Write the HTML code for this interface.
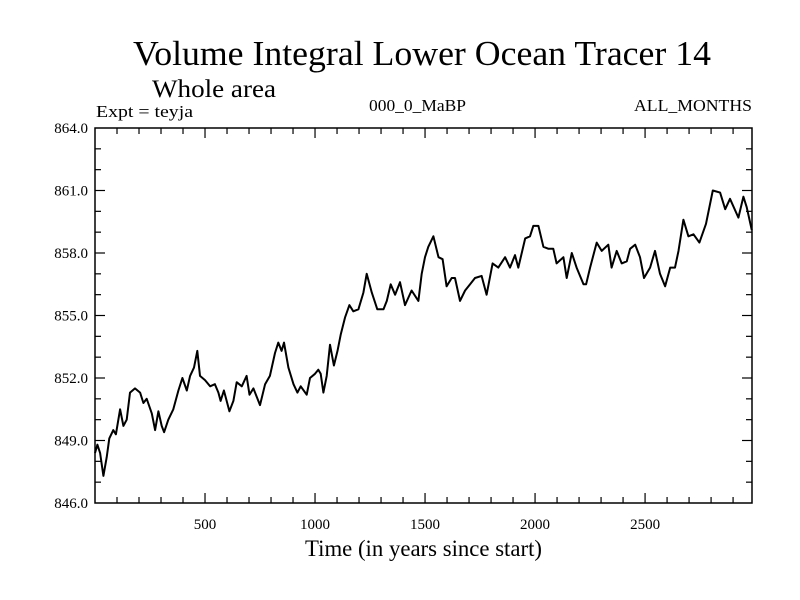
<!DOCTYPE html>
<html><head><meta charset="utf-8"><style>
html,body{margin:0;padding:0;background:#fff;}
svg{display:block;font-family:"Liberation Serif",serif;}
</style></head><body>
<svg id="chart" width="800" height="600" viewBox="0 0 800 600">
<text x="422" y="65" font-size="35" text-anchor="middle" textLength="578" lengthAdjust="spacingAndGlyphs">Volume Integral Lower Ocean Tracer 14</text>
<text x="152" y="97" font-size="25" textLength="124" lengthAdjust="spacingAndGlyphs">Whole area</text>
<text x="96" y="117" font-size="17" textLength="97" lengthAdjust="spacingAndGlyphs">Expt = teyja</text>
<text x="369" y="111" font-size="17" textLength="97" lengthAdjust="spacingAndGlyphs">000_0_MaBP</text>
<text x="634" y="111" font-size="17" textLength="118" lengthAdjust="spacingAndGlyphs">ALL_MONTHS</text>
<text x="305" y="556" font-size="23" textLength="237" lengthAdjust="spacingAndGlyphs">Time (in years since start)</text>
<g id="ticks"></g>
<path id="line" fill="none" stroke="#000" stroke-width="2" stroke-linejoin="round"/>
<rect x="95" y="128" width="657" height="375" fill="none" stroke="#000" stroke-width="1.5"/>
</svg>
<script>
const years = [0,11,23,38,53,65,83,95,114,129,144,159,182,205,220,235,258,273,288,303,314,333,356,379,397,417,432,450,465,477,500,523,545,561,571,586,611,629,644,667,689,702,720,750,773,795,818,833,848,859,879,902,920,935,962,977,1000,1015,1026,1038,1053,1068,1086,1102,1117,1136,1156,1174,1197,1220,1235,1258,1283,1311,1326,1344,1364,1386,1409,1439,1470,1485,1500,1515,1538,1561,1580,1598,1621,1636,1659,1682,1705,1727,1757,1780,1807,1833,1864,1886,1909,1924,1955,1977,1992,2015,2038,2061,2083,2098,2129,2144,2167,2189,2220,2232,2250,2280,2303,2333,2348,2371,2394,2417,2432,2455,2477,2495,2523,2545,2568,2591,2614,2636,2652,2674,2697,2720,2747,2777,2808,2841,2864,2886,2924,2947,2962,2985];
const values = [848.4,848.8,848.4,847.3,848.2,849.1,849.5,849.3,850.5,849.7,850.0,851.3,851.5,851.3,850.8,851.0,850.3,849.5,850.4,849.7,849.4,850.0,850.5,851.4,852.0,851.4,852.1,852.5,853.3,852.1,851.9,851.6,851.7,851.3,850.9,851.4,850.4,850.9,851.8,851.6,852.1,851.2,851.5,850.7,851.7,852.1,853.2,853.7,853.3,853.7,852.5,851.7,851.3,851.6,851.2,852.0,852.2,852.4,852.2,851.3,852.1,853.6,852.6,853.3,854.1,854.9,855.5,855.2,855.3,856.1,857.0,856.1,855.3,855.3,855.7,856.5,856.0,856.6,855.5,856.2,855.7,857.0,857.8,858.3,858.8,857.8,857.7,856.4,856.8,856.8,855.7,856.2,856.5,856.8,856.9,856.0,857.5,857.3,857.8,857.3,857.9,857.3,858.7,858.8,859.3,859.3,858.3,858.2,858.2,857.5,857.8,856.8,858.0,857.3,856.5,856.5,857.3,858.5,858.1,858.4,857.3,858.1,857.5,857.6,858.2,858.4,857.8,856.8,857.3,858.1,857.0,856.4,857.3,857.3,858.1,859.6,858.8,858.9,858.5,859.4,861.0,860.9,860.1,860.6,859.7,860.7,860.2,859.1];
const xTickLabels = ["500","1000","1500","2000","2500"];
const yTickLabels = ["846.0","849.0","852.0","855.0","858.0","861.0","864.0"];

const L=95,R=752,T=128,B=503,XMIN=0,XMAX=2986,YMIN=846,YMAX=864;
function xs(v){return L+(v-XMIN)/(XMAX-XMIN)*(R-L);}
function ys(v){return B-(v-YMIN)/(YMAX-YMIN)*(B-T);}
const NS='http://www.w3.org/2000/svg';
const g=document.getElementById('ticks');
function ln(x1,y1,x2,y2,name){const e=document.createElementNS(NS,'line');
e.setAttribute('x1',x1);e.setAttribute('y1',y1);e.setAttribute('x2',x2);e.setAttribute('y2',y2);
e.setAttribute('stroke','#000');e.setAttribute('stroke-width','1.2');


g.appendChild(e);}
function tx(x,y,s,anchor,name){const e=document.createElementNS(NS,'text');
e.setAttribute('x',x);e.setAttribute('y',y);e.setAttribute('font-size','15');e.setAttribute('text-anchor',anchor);e.textContent=s;


g.appendChild(e);}
for(let yr=100;yr<XMAX;yr+=100){const x=xs(yr);const major=yr%500===0;const len=major?10:6;
ln(x,B,x,B-len,'x-tick');ln(x,T,x,T+len,'x-tick-top');}
xTickLabels.forEach(s=>tx(xs(+s),529,s,'middle','x-tick-label'));
for(let v=YMIN+1;v<YMAX;v+=1){const y=ys(v);const major=(v-YMIN)%3===0;const len=major?10:6;
ln(L,y,L+len,y,'y-tick');ln(R,y,R-len,y,'y-tick-right');}
yTickLabels.forEach(s=>tx(88,ys(+s)+5,s,'end','y-tick-label'));
let d='';years.forEach((yr,i)=>{d+=(i?'L':'M')+xs(yr).toFixed(1)+','+ys(values[i]).toFixed(1);});
document.getElementById('line').setAttribute('d',d);
</script>
</body></html>
